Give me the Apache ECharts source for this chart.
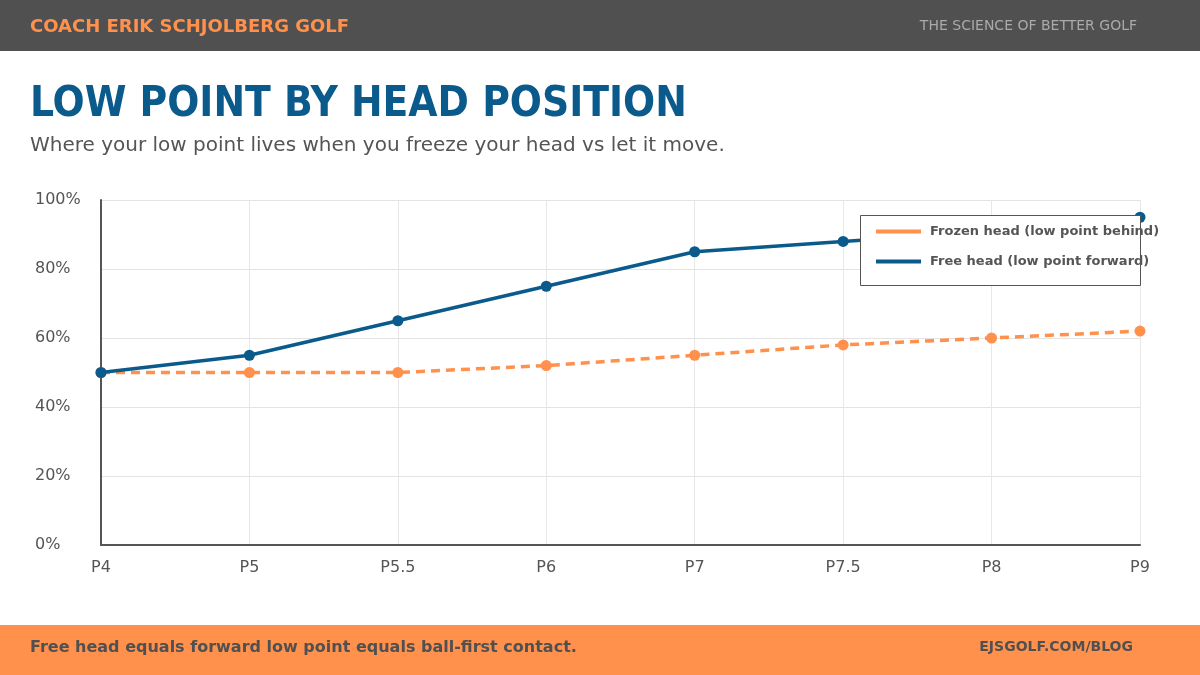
<!DOCTYPE html>
<html>
<head>
<meta charset="utf-8">
<script src="https://cdn.jsdelivr.net/npm/echarts@6/dist/echarts.min.js"></script>
<style>
html,body{margin:0;padding:0;background:#fff;}
#c{width:1200px;height:675px;}
</style>
</head>
<body>
<div id="c"></div>
<script>
const categories = ['P4','P5','P5.5','P6','P7','P7.5','P8','P9'];
const frozenHead = [50, 50, 50, 52, 55, 58, 60, 62];
const freeHead = [50, 55, 65, 75, 85, 88, 91, 95];
const yTicks = [0, 20, 40, 60, 80, 100];
const seriesNames = ['Frozen head (low point behind)', 'Free head (low point forward)'];

const ORANGE = '#FF914D';
const BLUE = '#0B5A8C';
const DARK = '#505050';
const FONT = 'DejaVu Sans';

const chart = echarts.init(document.getElementById('c'), null, {renderer:'canvas'});
chart.setOption({
  animation: false,
  backgroundColor: '#fff',
  textStyle: {fontFamily: FONT},
  graphic: [
    {type:'rect', left:0, top:0, shape:{width:1200, height:51}, style:{fill:DARK}, z:0},
    {type:'text', left:30, top:18, style:{text:'COACH ERIK SCHJOLBERG GOLF', fill:ORANGE, font:'bold 18px "DejaVu Sans"'}},
    {type:'text', right:63, top:19, style:{text:'THE SCIENCE OF BETTER GOLF', fill:'#aaaaaa', font:'14px "DejaVu Sans"'}},
    {type:'text', left:30, top:84, style:{text:'LOW POINT BY HEAD POSITION', fill:BLUE, font:'bold 42px "DejaVu Sans Condensed"'}},
    {type:'text', left:30, top:136, style:{text:'Where your low point lives when you freeze your head vs let it move.', fill:'#555555', font:'20px "DejaVu Sans"'}},
    {type:'rect', left:0, top:625, shape:{width:1200, height:50}, style:{fill:ORANGE}, z:0},
    {type:'text', left:30, top:640, style:{text:'Free head equals forward low point equals ball-first contact.', fill:DARK, font:'bold 16px "DejaVu Sans"'}},
    {type:'text', right:67, top:640, style:{text:'EJSGOLF.COM/BLOG', fill:DARK, font:'bold 14px "DejaVu Sans"'}},
    {type:'rect', left:860, top:215, shape:{width:280, height:70},
      style:{fill:'#ffffff', stroke:'#555555', lineWidth:1}, z:50}
  ],
  legend: {
    data: seriesNames,
    orient: 'vertical',
    left: 876,
    top: 225,
    padding: 0,
    itemGap: 17,
    itemWidth: 45,
    itemHeight: 16,
    z: 60,
    textStyle: {color:'#555', fontWeight:'bold', fontSize:13, fontFamily:FONT, padding:[0,0,0,4]},
    icon: 'path://M0,0 L45,0 L45,4 L0,4 Z'
  },
  grid: {left:101, right:60, top:200, bottom:130, containLabel:false},
  xAxis: {
    type: 'category',
    data: categories,
    boundaryGap: false,
    axisLine: {lineStyle:{color:'#555', width:2}},
    axisTick: {show:false},
    splitLine: {show:true, lineStyle:{color:'#e8e8e8', width:1}},
    axisLabel: {color:'#555', fontSize:16, margin:15, fontFamily:FONT}
  },
  yAxis: {
    type: 'value',
    min: 0, max: 100, interval: 20,
    axisLine: {show:true, lineStyle:{color:'#555', width:2}},
    axisTick: {show:false},
    splitLine: {lineStyle:{color:'#e3e3e3', width:1}},
    axisLabel: {color:'#555', fontSize:16, align:'left', margin:66, fontFamily:FONT,
      formatter: v => yTicks.includes(v) ? v + '%' : ''}
  },
  series: [
    {
      name: seriesNames[0], type:'line', data: frozenHead,
      symbol:'circle', symbolSize:11,
      itemStyle:{color:ORANGE},
      lineStyle:{color:ORANGE, width:3.5, type:[9,6], cap:'butt'},
      z: 2
    },
    {
      name: seriesNames[1], type:'line', data: freeHead,
      symbol:'circle', symbolSize:11,
      itemStyle:{color:BLUE},
      lineStyle:{color:BLUE, width:3.5},
      z: 3
    }
  ]
});
</script>
</body>
</html>
